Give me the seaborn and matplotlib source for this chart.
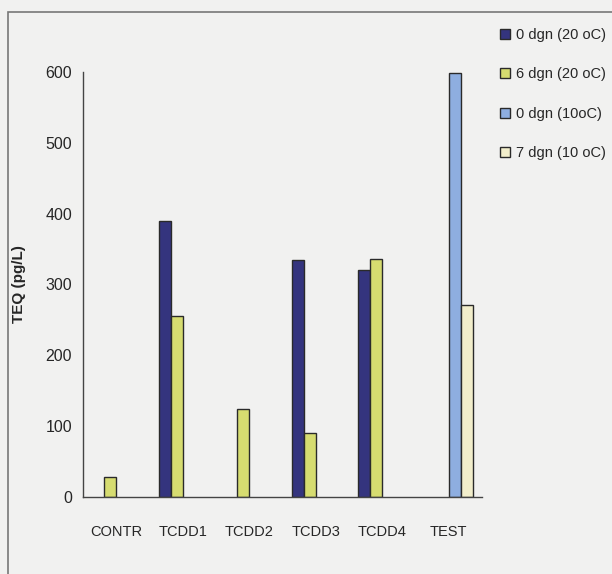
import numpy as np
import pandas as pd
import matplotlib
matplotlib.use("Agg")
import matplotlib.pyplot as plt
import seaborn as sns
from matplotlib.patches import Rectangle

categories = ["CONTR", "TCDD1", "TCDD2", "TCDD3", "TCDD4", "TEST"]
series_names = ["0 dgn (20 oC)", "6 dgn (20 oC)", "0 dgn (10oC)", "7 dgn (10 oC)"]
s0 = [np.nan, 390, np.nan, 334, 320, np.nan]
s1 = [28, 256, 124, 91, 336, np.nan]
s2 = [np.nan, np.nan, np.nan, np.nan, np.nan, 598]
s3 = [np.nan, np.nan, np.nan, np.nan, np.nan, 271]
yticks = [0, 100, 200, 300, 400, 500, 600]

colors = ["#34347e", "#d6dc70", "#8eaee0", "#f2eecb"]

rows = []
for name, vals in zip(series_names, [s0, s1, s2, s3]):
    for c, v in zip(categories, vals):
        if not np.isnan(v):
            rows.append({"cat": c, "series": name, "val": v})
df = pd.DataFrame(rows)

sns.set_style("white")
plt.rcParams["font.family"] = ["Liberation Sans", "DejaVu Sans"]

bg = "#f1f1f0"
fig = plt.figure(figsize=(6.12, 5.74), dpi=100, facecolor=bg)
ax = fig.add_axes([83/612, 1-497/574, (482-83)/612, (497-72)/574])
ax.set_facecolor(bg)

sns.barplot(data=df, x="cat", y="val", hue="series", order=categories,
            hue_order=series_names, palette=colors, width=0.72,
            edgecolor="#2a2a2a", linewidth=1.0, ax=ax, legend=True, saturation=1)

ax.set_ylim(0, 600)
ax.set_xlim(-0.5, 5.5)
ax.set_yticks(yticks)
ax.set_yticklabels([str(t) for t in yticks], fontsize=11.5)
ax.set_xticks(np.arange(-0.5, 6.0, 1.0), minor=True)
ax.set_xticks(range(len(categories)))
ax.set_xticklabels(categories, fontsize=10.5)
ax.tick_params(axis="x", which="major", length=0, pad=20)
ax.tick_params(axis="x", which="minor", length=5, width=1, color="#444", direction="out")
ax.tick_params(axis="y", length=5, width=1, color="#444", direction="out", pad=3)
ax.set_xlabel("")
ax.set_ylabel("TEQ (pg/L)", fontsize=11, fontweight="bold", labelpad=14)
for s in ["top", "right"]:
    ax.spines[s].set_visible(False)
for s in ["left", "bottom"]:
    ax.spines[s].set_color("#444")
    ax.spines[s].set_linewidth(1.0)

h, l = ax.get_legend_handles_labels()
ax.get_legend().remove()
fig.legend(h, l, loc="upper left", bbox_to_anchor=(494/612, 1-22/574),
           frameon=False, fontsize=10.5, handlelength=0.7, handleheight=0.7,
           handletextpad=0.4, labelspacing=1.75, borderaxespad=0)

fig.patches.append(Rectangle((8/612, -0.1), 1.2, 1-12/574+0.1, transform=fig.transFigure,
                             fill=False, edgecolor="#777", linewidth=1.2))

fig.savefig("out.png", dpi=100, facecolor=bg)
